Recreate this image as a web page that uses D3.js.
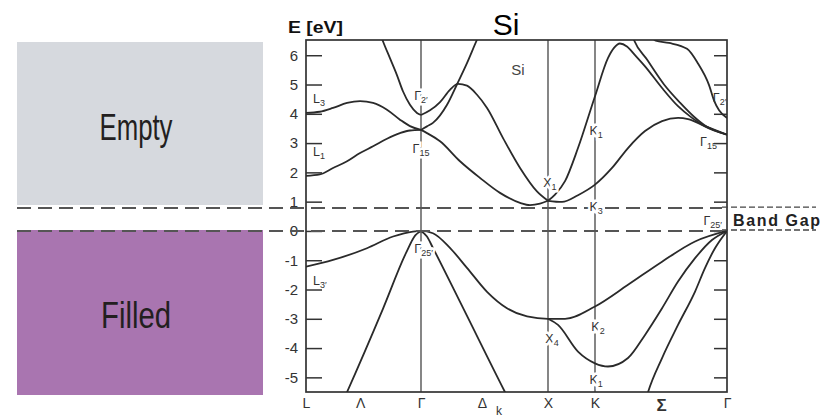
<!DOCTYPE html>
<html>
<head>
<meta charset="utf-8">
<script src="https://cdn.jsdelivr.net/npm/d3@7"></script>
<style>
  body { margin: 0; background: #fff; }
  svg { display: block; }
  text { font-family: "Liberation Sans", Arial, sans-serif; }
</style>
</head>
<body>
<svg id="chart" width="831" height="419"></svg>
<script>
// ---- k-path through the Brillouin zone (node index along the path) ----
const pathNodeK = [0, 1, 2, 3, 4];                // L, Γ, X, K, Γ
const kAxisLabels = ["L", "Λ", "Γ", "Δ", "X", "K", "Σ", "Γ"];
const kAxisLabelPos = [0, 0.47, 1, 1.48, 2, 3, 3.5, 4];
const energyTicks = [-5, -4, -3, -2, -1, 0, 1, 2, 3, 4, 5, 6];
const energyRange = [-5.5, 6.52];
const gapEdges = [0, 0.78];                        // valence top, conduction edge line

// ---- conduction bands: [k, E (eV)] ----
const condL3 = [[0,4.03],[0.12,4.07],[0.235,4.2],[0.357,4.37],[0.47,4.43],[0.583,4.37],[0.704,4.14],[0.817,3.8],[0.904,3.58],[1,3.45]];
const condL1 = [[0,1.88],[0.12,1.93],[0.235,2.15],[0.357,2.38],[0.47,2.66],[0.583,2.89],[0.704,3.15],[0.817,3.34],[0.904,3.43],[1,3.45]];
const condLambdaTop = [[0.63,6.9],[0.67,6.47],[0.73,5.9],[0.79,5.33],[0.843,4.77],[0.904,4.31],[0.965,4.03],[1,3.96]];
const condDeltaBump = [[1,3.96],[1.071,4.12],[1.15,4.4],[1.228,4.82],[1.291,5.02],[1.362,4.96],[1.441,4.65],[1.52,4.2],[1.646,3.17],[1.78,2.15],[1.913,1.35],[2,1.03]];
const condDeltaSteep = [[1,3.45],[1.047,3.57],[1.094,3.69],[1.205,4.31],[1.283,5.0],[1.362,5.73],[1.441,6.53],[1.48,6.9]];
const condDeltaLow = [[1,3.45],[1.047,3.34],[1.15,3.06],[1.307,2.38],[1.465,1.81],[1.622,1.3],[1.78,0.96],[1.858,0.88],[1.937,0.93],[2,1.03]];
const condXKSteep = [[2,1.03],[2.149,1.24],[2.362,1.7],[2.638,2.83],[3,4.6],[3.098,5.9],[3.144,6.25],[3.189,6.4],[3.242,6.3],[3.303,6.0],[3.379,5.62],[3.508,4.88],[3.629,4.26],[3.735,3.86],[3.833,3.57],[4,3.29]];
const condSigmaPair = [[3.265,6.9],[3.295,6.52],[3.394,5.85],[3.523,5.0],[3.644,4.38],[3.75,3.9],[3.833,3.6],[4,3.29]];
const condXKLow = [[2,1.03],[2.298,0.99],[2.638,1.22],[3,1.58],[3.129,2.15],[3.25,2.83],[3.379,3.41],[3.508,3.75],[3.629,3.86],[3.705,3.82],[3.833,3.58],[4,3.29]];
const condSigmaTop = [[3.40,6.8],[3.46,6.5],[3.56,6.42],[3.697,6.22],[3.78,5.72],[3.864,4.98],[3.902,4.45],[3.94,4.12],[4,3.86]];

// ---- valence bands: [k, E (eV)] ----
const valHeavy = [[0,-1.22],[0.235,-0.99],[0.53,-0.59],[0.757,-0.19],[0.93,-0.02],[1,0],[1.094,-0.08],[1.228,-0.58],[1.362,-1.26],[1.52,-2.08],[1.677,-2.64],[1.835,-2.92],[2,-3.0],[2.362,-3.0],[3,-2.58],[3.25,-1.84],[3.508,-1.05],[3.758,-0.36],[4,0]];
const valLightLambda = [[0.3,-6.0],[0.357,-5.5],[0.67,-2.65],[0.87,-0.75],[0.95,-0.15],[1,0]];
const valLightDelta = [[1,0],[1.047,-0.19],[1.094,-0.58],[1.331,-2.63],[1.661,-5.5],[1.72,-6.0]];
const valXKDip = [[2,-3.0],[2.213,-3.21],[2.638,-4.12],[3,-4.52],[3.098,-4.63],[3.25,-4.34],[3.379,-3.55],[3.508,-2.64],[3.629,-1.73],[3.758,-0.93],[3.886,-0.31],[4,0]];
const valSigmaSteep = [[3.37,-6.0],[3.402,-5.5],[3.508,-4.34],[3.629,-3.21],[3.758,-2.07],[3.833,-1.27],[3.909,-0.59],[4,0]];

const bands = [condL3, condL1, condLambdaTop, condDeltaBump, condDeltaSteep, condDeltaLow,
  condXKSteep, condSigmaPair, condXKLow, condSigmaTop,
  valHeavy, valLightLambda, valLightDelta, valXKDip, valSigmaSteep];

// ---- symmetry-point labels: symbol, subscript, anchor (k, E) ----
const pointLabels = [
  {t:"L", s:"3",   k:0.061, e:4.37,  a:"start",  cut:false},
  {t:"L", s:"1",   k:0.061, e:2.56,  a:"start",  cut:false},
  {t:"L", s:"3′",  k:0.061, e:-1.86, a:"start",  cut:false},
  {t:"Γ", s:"2′",  k:1,     e:4.47,  a:"middle", cut:true},
  {t:"Γ", s:"15",  k:1,     e:2.66,  a:"middle", cut:true},
  {t:"Γ", s:"25′", k:1.02,  e:-0.75, a:"middle", cut:true},
  {t:"X", s:"1",   k:2.04,  e:1.5,   a:"middle", cut:true},
  {t:"X", s:"4",   k:2.085, e:-3.83, a:"middle", cut:true},
  {t:"K", s:"1",   k:3.008, e:3.27,  a:"middle", cut:true},
  {t:"K", s:"3",   k:3.008, e:0.68,  a:"middle", cut:true},
  {t:"K", s:"2",   k:3.023, e:-3.42, a:"middle", cut:true},
  {t:"K", s:"1",   k:3.008, e:-5.23, a:"middle", cut:true},
  {t:"Γ", s:"2′",  k:3.995, e:4.4,   a:"end",    cut:false},
  {t:"Γ", s:"15",  k:3.924, e:2.9,   a:"end",    cut:false},
  {t:"Γ", s:"25′", k:3.962, e:0.2,   a:"end",    cut:false}
];

const occupancy = ["Empty", "Filled"];

// ---- layout ----
const svg = d3.select("#chart");
const plot = {left: 306, right: 727, top: 40, bottom: 392};

const x = d3.scaleLinear().domain(pathNodeK).range([306, 421, 548, 595, 727]);
const y = d3.scaleLinear().domain(energyRange).range([plot.bottom, plot.top]);

// occupancy boxes on the left
const boxes = [
  {label: occupancy[0], y0: 42, y1: 205, fill: "#d6d9de", ty: 140, len: 73},
  {label: occupancy[1], y0: 230, y1: 395, fill: "#a975b0", ty: 328, len: 70}
];
svg.selectAll("rect.box").data(boxes).join("rect")
  .attr("class", "box")
  .attr("x", 17).attr("width", 246)
  .attr("y", d => d.y0).attr("height", d => d.y1 - d.y0)
  .attr("fill", d => d.fill);
svg.selectAll("text.boxlabel").data(boxes).join("text")
  .attr("class", "boxlabel")
  .attr("x", 136).attr("y", d => d.ty)
  .attr("text-anchor", "middle")
  .attr("font-family", "'Open Sans', sans-serif")
  .attr("font-size", 36)
  .attr("textLength", d => d.len)
  .attr("lengthAdjust", "spacingAndGlyphs")
  .attr("fill", "#231f20")
  .text(d => d.label);

svg.append("clipPath").attr("id", "plotclip")
  .append("rect")
  .attr("x", plot.left).attr("y", plot.top)
  .attr("width", plot.right - plot.left).attr("height", plot.bottom - plot.top);

// vertical high-symmetry lines at Γ, X, K
svg.append("g").selectAll("line").data(pathNodeK.slice(1, 4)).join("line")
  .attr("x1", d => x(d)).attr("x2", d => x(d))
  .attr("y1", plot.top).attr("y2", plot.bottom)
  .attr("stroke", "#444").attr("stroke-width", 1.3);

// left energy axis (inward ticks)
const yAxisL = svg.append("g").attr("transform", `translate(${plot.left},0)`)
  .call(d3.axisLeft(y).tickValues(energyTicks).tickSizeInner(-16).tickSizeOuter(0).tickPadding(8)
    .tickFormat(d => String(d)));
yAxisL.select(".domain").remove();
yAxisL.selectAll("line").attr("stroke", "#333").attr("stroke-width", 1.5);
yAxisL.selectAll("text").attr("font-size", 15).attr("fill", "#333")
  .attr("font-family", "'Liberation Sans', Arial, sans-serif");

// right energy axis (inward ticks, unlabeled)
const yAxisR = svg.append("g").attr("transform", `translate(${plot.right},0)`)
  .call(d3.axisRight(y).tickValues(energyTicks).tickSizeInner(-13).tickSizeOuter(0).tickFormat(""));
yAxisR.select(".domain").remove();
yAxisR.selectAll("line").attr("stroke", "#333").attr("stroke-width", 1.5);

// bottom k axis labels
const xAxis = svg.append("g").attr("transform", `translate(0,${plot.bottom})`)
  .call(d3.axisBottom(x).tickValues(kAxisLabelPos).tickSize(0).tickPadding(6)
    .tickFormat((d, i) => kAxisLabels[i]));
xAxis.select(".domain").remove();
xAxis.selectAll("text").attr("font-size", 14).attr("fill", "#333")
  .attr("font-family", "'Liberation Sans', Arial, sans-serif")
  .filter(d => d === 3.5).attr("font-size", 17).attr("font-weight", "bold").attr("dy", "0.78em");
svg.append("text").attr("x", x(1.48) + 14).attr("y", 415)
  .attr("font-size", 12).attr("fill", "#333").text("k");

// frame
svg.append("rect")
  .attr("x", plot.left).attr("y", plot.top)
  .attr("width", plot.right - plot.left).attr("height", plot.bottom - plot.top)
  .attr("fill", "none").attr("stroke", "#333").attr("stroke-width", 1.7);

// band curves
const line = d3.line().x(d => x(d[0])).y(d => y(d[1])).curve(d3.curveMonotoneX);
svg.append("g").attr("clip-path", "url(#plotclip)")
  .selectAll("path").data(bands).join("path")
  .attr("d", line)
  .attr("fill", "none").attr("stroke", "#2a2a2a").attr("stroke-width", 1.8)
  .attr("stroke-linejoin", "round");

// band-gap dashed lines
const gapG = svg.append("g");
gapG.selectAll("line.long").data(gapEdges).join("line")
  .attr("class", "long")
  .attr("x1", 17).attr("x2", 722)
  .attr("y1", d => y(d)).attr("y2", d => y(d))
  .attr("stroke", "#555").attr("stroke-width", 2).attr("stroke-dasharray", "14,7");
gapG.selectAll("line.short").data(gapEdges).join("line")
  .attr("class", "short")
  .attr("x1", 722).attr("x2", 816)
  .attr("y1", d => y(d) - 1).attr("y2", d => y(d) - 1)
  .attr("stroke", "#444").attr("stroke-width", 1.4).attr("stroke-dasharray", "6,3");

// symmetry-point labels
const lab = svg.append("g").selectAll("text").data(pointLabels).join("text")
  .attr("x", d => x(d.k)).attr("y", d => y(d.e))
  .attr("text-anchor", d => d.a)
  .attr("font-size", 12.5).attr("fill", "#333")
  .attr("paint-order", "stroke")
  .attr("stroke", d => d.cut ? "#fff" : "none")
  .attr("stroke-width", 5);
lab.append("tspan").text(d => d.t);
lab.append("tspan").attr("font-size", 9).attr("dy", 3).text(d => d.s);

// material label inside the plot
svg.append("text").attr("x", x(1.764)).attr("y", y(5.32))
  .attr("text-anchor", "middle").attr("font-size", 15).attr("fill", "#444").text("Si");

// titles
svg.append("text").attr("x", 506).attr("y", 35).attr("text-anchor", "middle")
  .attr("font-size", 30).attr("fill", "#000").text("Si");
svg.append("text").attr("x", 288).attr("y", 33)
  .attr("font-size", 17).attr("font-weight", "bold").attr("fill", "#111")
  .attr("textLength", 55).attr("lengthAdjust", "spacingAndGlyphs").text("E [eV]");
svg.append("text").attr("x", 733).attr("y", 226)
  .attr("font-size", 16).attr("font-weight", "bold").attr("fill", "#222")
  .attr("textLength", 87).attr("lengthAdjust", "spacing").text("Band Gap");
</script>
</body>
</html>
